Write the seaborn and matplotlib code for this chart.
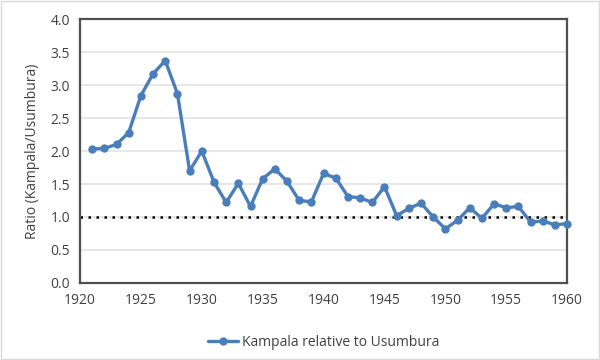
import numpy as np
import pandas as pd
import seaborn as sns
import matplotlib.pyplot as plt
from matplotlib.patches import Rectangle

years = list(range(1921, 1961))
ratio = [2.03, 2.04, 2.10, 2.28, 2.84, 3.17, 3.37, 2.87, 1.70, 2.00,
         1.53, 1.22, 1.51, 1.16, 1.58, 1.73, 1.54, 1.25, 1.23, 1.66,
         1.59, 1.31, 1.29, 1.22, 1.46, 1.02, 1.13, 1.21, 1.00, 0.82,
         0.95, 1.14, 0.98, 1.20, 1.14, 1.16, 0.92, 0.94, 0.88, 0.90]
series_name = 'Kampala relative to Usumbura'

data = pd.DataFrame({'year': years, 'ratio': ratio, 'series': series_name})

sns.set_style('white')
plt.rcParams['font.family'] = ['Open Sans', 'DejaVu Sans']

fig = plt.figure(figsize=(6, 3.6), dpi=100)
ax = fig.add_axes([0.1333, 0.214, 0.812, 0.733])

# light outer frame like the original chart area
fig.patches.append(Rectangle((0.002, 0.003), 0.996, 0.994, transform=fig.transFigure,
                             fill=False, edgecolor='#d9d9d9', linewidth=1))

ax.axhline(1.0, color='black', linestyle=(0, (1, 2.2)), linewidth=1.8, zorder=2)

sns.lineplot(data=data, x='year', y='ratio', hue='series', palette=['#4a7ebb'],
             marker='o', markersize=6, markeredgewidth=0, linewidth=2.4, ax=ax, zorder=3)
for ln in ax.lines:
    ln.set_clip_on(False)

ax.set_xlim(1920, 1960)
ax.set_ylim(0, 4)
ax.set_xticks(range(1920, 1961, 5))
ax.set_yticks(np.arange(0, 4.01, 0.5))
ax.set_yticklabels([f'{v:.1f}' for v in np.arange(0, 4.01, 0.5)])
ax.yaxis.grid(True, color='#e3e3e3', linewidth=1.2)
ax.set_axisbelow(True)
for s in ax.spines.values():
    s.set_color('#505050')
    s.set_linewidth(1.6)
ax.tick_params(axis='both', labelsize=10, colors='#404040', length=0, pad=7)
ax.set_xlabel('')
ax.set_ylabel('Ratio (Kampala/Usumbura)', fontsize=10, color='#404040', labelpad=8)

ax.legend(loc='upper center', bbox_to_anchor=(0.5, -0.15), frameon=False,
          fontsize=10, handlelength=2.2, handletextpad=0.3, labelcolor='#404040')

plt.savefig('out.png', dpi=100)
